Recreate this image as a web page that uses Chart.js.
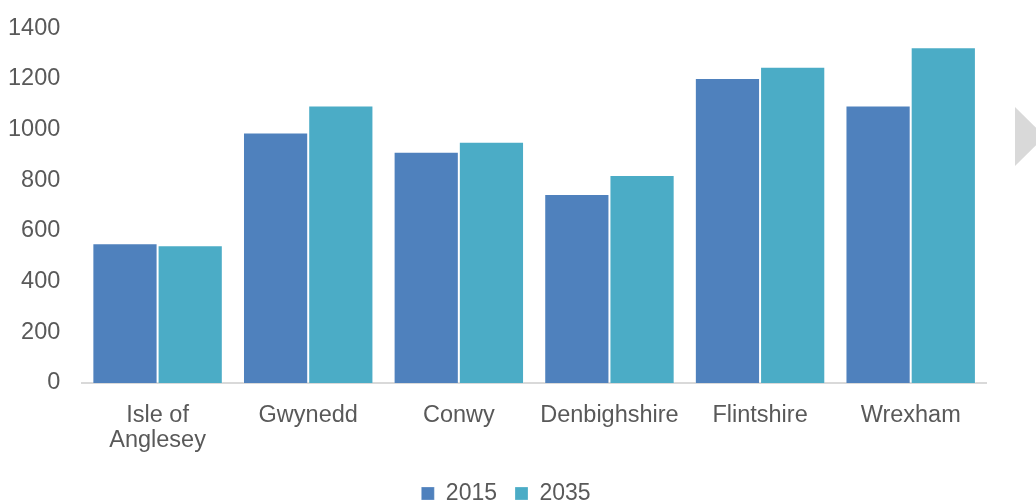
<!DOCTYPE html>
<html>
<head>
<meta charset="utf-8">
<script src="https://cdn.jsdelivr.net/npm/chart.js@4/dist/chart.umd.min.js"></script>
<style>
html,body{margin:0;padding:0;background:#fff;}
#wrap{width:1036px;height:500px;position:relative;}
</style>
</head>
<body>
<div id="wrap"><canvas id="c" width="1036" height="500"></canvas></div>
<script>
const categories = [["Isle of","Anglesey"], "Gwynedd", "Conwy", "Denbighshire", "Flintshire", "Wrexham"];
const values2015 = [551, 988, 912, 746, 1203, 1095];
const values2035 = [543, 1095, 952, 821, 1248, 1324];
const yTicks = [0, 200, 400, 600, 800, 1000, 1200, 1400];

const arrowPlugin = {
  id: 'arrow',
  afterDraw(chart) {
    const ctx = chart.ctx;
    ctx.save();
    ctx.fillStyle = '#d9d9d9';
    ctx.beginPath();
    ctx.moveTo(1015, 107);
    ctx.lineTo(1045, 136.5);
    ctx.lineTo(1015, 166);
    ctx.closePath();
    ctx.fill();
    ctx.restore();
  }
};

const legendShift = {
  id: 'legendShift',
  afterLayout(chart) {
    if (chart.legend) {
      chart.legend.left += 16;
      chart.legend.right += 16;
    }
  }
};

Chart.defaults.font.family = "'Liberation Sans', Arial, sans-serif";
Chart.defaults.color = '#595959';

new Chart(document.getElementById('c'), {
  type: 'bar',
  data: {
    labels: categories,
    datasets: [
      { label: '2015', data: values2015, backgroundColor: '#4F81BD', borderColor: 'rgba(255,255,255,0.25)', borderWidth: 1 },
      { label: '2035', data: values2035, backgroundColor: '#4BACC6', borderColor: 'rgba(255,255,255,0.25)', borderWidth: 1 }
    ]
  },
  options: {
    responsive: false,
    animation: false,
    devicePixelRatio: 1,
    layout: { padding: { top: 25, right: 50, left: -6, bottom: -15 } },
    datasets: { bar: { categoryPercentage: 0.866, barPercentage: 1.0 } },
    plugins: {
      legend: {
        position: 'bottom',
        labels: { boxWidth: 13, boxHeight: 13, font: { size: 23 }, color: '#595959', padding: 18 }
      },
      tooltip: { enabled: false }
    },
    scales: {
      x: {
        grid: { display: false },
        border: { display: true, color: '#d9d9d9', width: 2 },
        ticks: { font: { size: 23.5, lineHeight: 1.07 }, color: '#595959', padding: 12, maxRotation: 0, autoSkip: false },
        afterFit(axis) { axis.height = 81; }
      },
      y: {
        min: 0, max: 1400,
        afterBuildTicks(axis) { axis.ticks = yTicks.map(v => ({ value: v })); },
        grid: { display: false },
        border: { display: false },
        ticks: { font: { size: 23.5 }, color: '#595959', padding: 14, callback: v => String(v) }
      }
    }
  },
  plugins: [arrowPlugin, legendShift]
});
</script>
</body>
</html>
